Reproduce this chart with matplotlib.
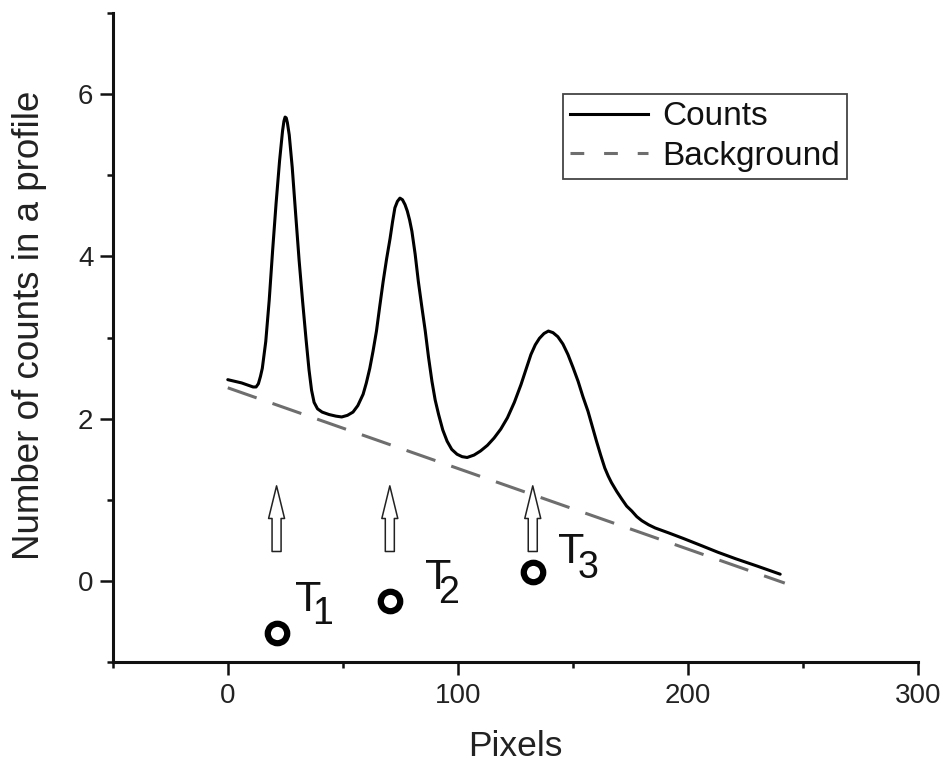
import matplotlib
matplotlib.use("Agg")
import matplotlib.pyplot as plt
from matplotlib.ticker import MultipleLocator
from matplotlib.patches import FancyArrowPatch
from matplotlib.lines import Line2D

plt.rcParams['font.family'] = ['Liberation Sans', 'DejaVu Sans']

# ---- data ----
counts_x = [0, 3, 6, 9, 11, 12.3, 13.3, 14.2, 15, 16.5, 18, 19.5, 21, 22.5, 23.8, 24.4, 24.9,
            25.4, 25.9, 26.7, 28, 29.5, 31, 32.5, 34, 35.3, 36.4, 37.5, 39, 41, 44, 47, 49.5,
            52, 54.4, 56.5, 58.8, 60.2, 61.7, 63.1, 64.6, 66, 67.5, 69, 70.5, 71.6, 72.6, 73.7,
            74.8, 75.9, 77, 78, 79, 80, 81.4, 82.8, 84.3, 85.8, 87.2, 88.7, 90.1, 91.6, 93.4, 95.3,
            97.3, 99.6, 101.8, 104, 107, 109.8, 112.8, 115.7, 118.6, 121.5, 124.5, 127.4, 129.6,
            131.7, 133.6, 135.4, 137.4, 139.3, 141.3, 143.4, 145.6, 147.8, 150, 152.2, 154.3,
            156.5, 158.4, 160.2, 162, 163.8, 165.3, 166.7, 169, 171.1, 173.3, 175.5, 177.7, 179.9,
            182.8, 185.7, 191.5, 198, 206, 213, 220.7, 230, 240]
counts_y = [2.48, 2.46, 2.44, 2.41, 2.39, 2.39, 2.43, 2.52, 2.62, 2.95, 3.46, 4.08, 4.66, 5.18, 5.55, 5.67, 5.72,
            5.71, 5.65, 5.50, 5.10, 4.52, 3.95, 3.45, 2.98, 2.60, 2.35, 2.20, 2.12, 2.08, 2.05, 2.03, 2.02,
            2.04, 2.08, 2.16, 2.30, 2.44, 2.62, 2.83, 3.08, 3.38, 3.69, 3.97, 4.22, 4.43, 4.60, 4.68,
            4.72, 4.70, 4.64, 4.56, 4.45, 4.31, 4.03, 3.69, 3.38, 3.08, 2.76, 2.46, 2.23, 2.05, 1.86, 1.72,
            1.62, 1.56, 1.53, 1.52, 1.55, 1.60, 1.67, 1.76, 1.87, 2.01, 2.20, 2.42, 2.61,
            2.79, 2.91, 2.99, 3.05, 3.08, 3.06, 3.01, 2.92, 2.79, 2.63, 2.46, 2.27,
            2.09, 1.90, 1.72, 1.55, 1.39, 1.29, 1.21, 1.10, 1.01, 0.92, 0.86, 0.79, 0.74,
            0.69, 0.65, 0.59, 0.52, 0.43, 0.35, 0.27, 0.18, 0.08]

background_x = [0, 242]
background_y = [2.38, -0.03]

target_x = [21.2, 70.4, 132.5]
target_y = [-0.64, -0.25, 0.11]
target_names = ['T', 'T', 'T']
target_subs = ['1', '2', '3']

arrow_bottom = 0.36
arrow_top = 1.17

x_ticks = [0, 100, 200, 300]
y_ticks = [0, 2, 4, 6]

# ---- figure ----
fig = plt.figure(figsize=(9.43, 7.62), dpi=100)
ax = fig.add_axes([0.1195, 0.1316, 0.8543, 0.8509])

ax.plot(counts_x, counts_y, color='black', lw=2.2, solid_capstyle='round',
        solid_joinstyle='round', label='Counts')
ax.plot(background_x, background_y, color='#6e6e6e', lw=2.2, dashes=(10, 5.5),
        label='Background')

ax.plot(target_x, target_y, linestyle='none', marker='o', markersize=14,
        markerfacecolor='white', markeredgecolor='black', markeredgewidth=4.5)

label_offsets_T = [(18, 22), (35, 12), (25, 9)]
label_offsets_sub = [(36, 9), (48, -2), (45, -6)]
for x, y, nm, sb, oT, oS in zip(target_x, target_y, target_names, target_subs,
                                label_offsets_T, label_offsets_sub):
    ax.annotate(nm, xy=(x, y), xytext=oT, textcoords='offset pixels',
                ha='left', va='baseline', fontsize=31, color='#111111')
    ax.annotate(sb, xy=(x, y), xytext=oS, textcoords='offset pixels',
                ha='left', va='baseline', fontsize=27, color='#111111')
    arr = FancyArrowPatch((x, arrow_bottom), (x, arrow_top),
                          arrowstyle='simple,head_length=23.5,head_width=11.5,tail_width=6.5',
                          mutation_scale=1, fc='white', ec='#222222', lw=1.1,
                          shrinkA=0, shrinkB=0)
    ax.add_patch(arr)

ax.set_xlim(-50, 300)
ax.set_ylim(-1, 7)
ax.set_xticks(x_ticks)
ax.set_yticks(y_ticks)
ax.xaxis.set_minor_locator(MultipleLocator(50))
ax.yaxis.set_minor_locator(MultipleLocator(1))

for s in ['top', 'right']:
    ax.spines[s].set_visible(False)
for s in ['left', 'bottom']:
    ax.spines[s].set_linewidth(2.2)
    ax.spines[s].set_color('#111111')

ax.tick_params(which='major', direction='out', length=9.4, width=1.8, labelsize=20,
               color='#111111', labelcolor='#222222')
ax.tick_params(which='minor', direction='out', length=4.5, width=1.8, color='#111111')
ax.tick_params(axis='x', which='major', pad=6)
ax.tick_params(axis='y', which='major', pad=4.5)

ax.set_xlabel('Pixels', fontsize=25.5, color='#222222')
ax.set_ylabel('Number of counts in a profile', fontsize=26.5, color='#222222')
ax.yaxis.set_label_coords(-0.082, 0.519)
ax.xaxis.set_label_coords(0.5, -0.105)

bg_handle = Line2D([], [], color='#6e6e6e', lw=2.2, dashes=(4.5, 6.5))
cnt_handle = Line2D([], [], color='black', lw=2.2)
leg = ax.legend([cnt_handle, bg_handle], ['Counts', 'Background'], loc='upper left',
                bbox_to_anchor=(0.5586, 0.8755), borderaxespad=0, fontsize=24,
                handlelength=2.35, handletextpad=0.42, borderpad=0.22, labelspacing=0.26,
                frameon=True, fancybox=False, edgecolor='#444444', framealpha=1)
leg.get_frame().set_linewidth(1.3)
for t in leg.get_texts():
    t.set_color('#111111')

fig.savefig('out.png', dpi=100)
